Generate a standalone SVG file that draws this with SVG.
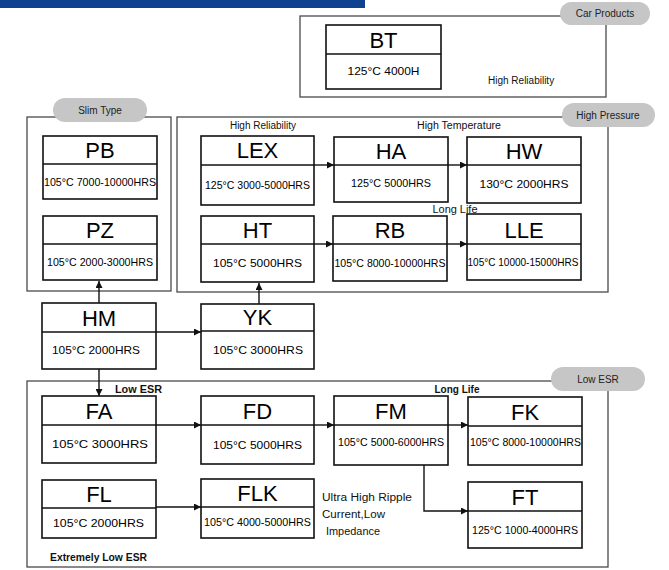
<svg xmlns="http://www.w3.org/2000/svg" width="669" height="570" viewBox="0 0 669 570">
<defs>
<style>
.grp{fill:none;stroke:#4a4a4a;stroke-width:1.3}
.pill{fill:#c6c6c6;stroke:none}
.pt{font-family:"Liberation Sans",Arial,sans-serif;font-size:10px;fill:#222;text-anchor:middle}
.box{fill:#fff;stroke:#111;stroke-width:1.6}
.div{stroke:#111;stroke-width:1.6}
.ttl{font-family:"Liberation Sans",Arial,sans-serif;font-size:22px;fill:#000;text-anchor:middle}
.sub{font-family:"Liberation Sans",Arial,sans-serif;font-size:11px;fill:#000;text-anchor:middle}
.lbl{font-family:"Liberation Sans",Arial,sans-serif;font-size:10px;fill:#111}
.lblb{font-family:"Liberation Sans",Arial,sans-serif;font-size:10px;fill:#111;font-weight:bold}
.con{fill:none;stroke:#111;stroke-width:1.4}
</style>
<marker id="ah" viewBox="0 0 10 10" refX="10" refY="5" markerWidth="7" markerHeight="7" markerUnits="userSpaceOnUse" orient="auto">
<path d="M0,0 L10,5 L0,10 z" fill="#111"/>
</marker>
</defs>
<rect width="669" height="570" fill="#fff"/>
<rect x="0" y="0" width="365" height="8" fill="#0f4191"/>

<g id="groups">
<rect class="grp" x="300" y="16" width="306" height="81"/>
<rect class="grp" x="27" y="117" width="144" height="174"/>
<rect class="grp" x="177" y="117" width="431" height="175"/>
<rect class="grp" x="27" y="381" width="581" height="186"/>
<rect class="pill" x="560" y="2" width="90" height="23" rx="11.5"/>
<text class="pt" x="605" y="17">Car Products</text>
<rect class="pill" x="53" y="98" width="94" height="24" rx="12"/>
<text class="pt" x="100" y="114">Slim Type</text>
<rect class="pill" x="562" y="103" width="93" height="24" rx="12"/>
<text class="pt" x="608" y="119">High Pressure</text>
<rect class="pill" x="551" y="367" width="94" height="24" rx="12"/>
<text class="pt" x="598" y="383">Low ESR</text>
</g>

<g id="labels">
<text class="lbl" x="488" y="84">High Reliability</text>
<text class="lbl" x="263" y="129" text-anchor="middle">High Reliability</text>
<text class="lbl" x="459" y="129" text-anchor="middle" textLength="84" lengthAdjust="spacingAndGlyphs">High Temperature</text>
<text class="lbl" x="455" y="213" text-anchor="middle" textLength="45" lengthAdjust="spacingAndGlyphs">Long Life</text>
<text class="lblb" x="115" y="393" textLength="47" lengthAdjust="spacingAndGlyphs">Low ESR</text>
<text class="lblb" x="457" y="393" text-anchor="middle" textLength="45" lengthAdjust="spacingAndGlyphs">Long Life</text>
<text class="lblb" x="50" y="561" textLength="97" lengthAdjust="spacingAndGlyphs">Extremely Low ESR</text>
<text class="lbl" x="322" y="501" textLength="90" lengthAdjust="spacingAndGlyphs">Ultra High Ripple</text>
<text class="lbl" x="322" y="518" textLength="63" lengthAdjust="spacingAndGlyphs">Current,Low</text>
<text class="lbl" x="326" y="535" textLength="54" lengthAdjust="spacingAndGlyphs">Impedance</text>
</g>

<g id="connectors">
<line class="con" x1="99" y1="303" x2="99" y2="281" marker-end="url(#ah)"/>
<line class="con" x1="156" y1="332" x2="201" y2="332" marker-end="url(#ah)"/>
<line class="con" x1="259" y1="304" x2="259" y2="283" marker-end="url(#ah)"/>
<line class="con" x1="99" y1="369" x2="99" y2="396" marker-end="url(#ah)"/>
<line class="con" x1="314" y1="165" x2="334" y2="165" marker-end="url(#ah)"/>
<line class="con" x1="448" y1="165" x2="467" y2="165" marker-end="url(#ah)"/>
<line class="con" x1="314" y1="244" x2="333" y2="244" marker-end="url(#ah)"/>
<line class="con" x1="447" y1="244" x2="467" y2="244" marker-end="url(#ah)"/>
<line class="con" x1="156" y1="425" x2="201" y2="425" marker-end="url(#ah)"/>
<line class="con" x1="314" y1="425" x2="334" y2="425" marker-end="url(#ah)"/>
<line class="con" x1="448" y1="425" x2="468" y2="425" marker-end="url(#ah)"/>
<polyline class="con" points="424,465 424,511 468,511" marker-end="url(#ah)"/>
<line class="con" x1="156" y1="507" x2="201" y2="507" marker-end="url(#ah)"/>
</g>

<g id="BT"><rect class="box" x="326" y="25" width="115" height="64"/><line class="div" x1="326" y1="54" x2="441" y2="54"/><text class="ttl" x="383.5" y="48">BT</text><text class="sub" x="383.5" y="75" textLength="72" lengthAdjust="spacingAndGlyphs">125°C 4000H</text></g>

<g id="PB"><rect class="box" x="43" y="136" width="114" height="63"/><line class="div" x1="43" y1="164" x2="157" y2="164"/><text class="ttl" x="100" y="158">PB</text><text class="sub" x="100" y="186" textLength="112" lengthAdjust="spacingAndGlyphs">105°C 7000-10000HRS</text></g>

<g id="PZ"><rect class="box" x="43" y="216" width="114" height="64"/><line class="div" x1="43" y1="244" x2="157" y2="244"/><text class="ttl" x="100" y="237.5">PZ</text><text class="sub" x="100" y="266" textLength="106" lengthAdjust="spacingAndGlyphs">105°C 2000-3000HRS</text></g>

<g id="LEX"><rect class="box" x="201" y="136" width="113" height="69"/><line class="div" x1="201" y1="165" x2="314" y2="165"/><text class="ttl" x="257.5" y="157.5">LEX</text><text class="sub" x="257.5" y="189" textLength="105" lengthAdjust="spacingAndGlyphs">125°C 3000-5000HRS</text></g>

<g id="HT"><rect class="box" x="201" y="216" width="113" height="66"/><line class="div" x1="201" y1="244" x2="314" y2="244"/><text class="ttl" x="257.5" y="237.5">HT</text><text class="sub" x="257.5" y="267" textLength="89" lengthAdjust="spacingAndGlyphs">105°C 5000HRS</text></g>

<g id="HA"><rect class="box" x="334" y="137" width="114" height="65"/><line class="div" x1="334" y1="165" x2="448" y2="165"/><text class="ttl" x="391" y="158.5">HA</text><text class="sub" x="391" y="187" textLength="80" lengthAdjust="spacingAndGlyphs">125°C 5000HRS</text></g>

<g id="HW"><rect class="box" x="467" y="137" width="114" height="66"/><line class="div" x1="467" y1="165" x2="581" y2="165"/><text class="ttl" x="524" y="158.5">HW</text><text class="sub" x="524" y="188" textLength="89" lengthAdjust="spacingAndGlyphs">130°C 2000HRS</text></g>

<g id="RB"><rect class="box" x="333" y="216" width="114" height="65"/><line class="div" x1="333" y1="244" x2="447" y2="244"/><text class="ttl" x="390" y="237.5">RB</text><text class="sub" x="390" y="266.5" textLength="111" lengthAdjust="spacingAndGlyphs">105°C 8000-10000HRS</text></g>

<g id="LLE"><rect class="box" x="467" y="214" width="114" height="66"/><line class="div" x1="467" y1="244" x2="581" y2="244"/><text class="ttl" x="524" y="237.5">LLE</text><text class="sub" x="523" y="266" textLength="111" lengthAdjust="spacingAndGlyphs">105°C 10000-15000HRS</text></g>

<g id="HM"><rect class="box" x="42" y="303" width="114" height="66"/><line class="div" x1="42" y1="332" x2="156" y2="332"/><text class="ttl" x="99" y="325.5">HM</text><text class="sub" x="96" y="353.5" textLength="88" lengthAdjust="spacingAndGlyphs">105°C 2000HRS</text></g>

<g id="YK"><rect class="box" x="201" y="304" width="113" height="65"/><line class="div" x1="201" y1="331" x2="314" y2="331"/><text class="ttl" x="257.5" y="324.5">YK</text><text class="sub" x="258" y="354" textLength="90" lengthAdjust="spacingAndGlyphs">105°C 3000HRS</text></g>

<g id="FA"><rect class="box" x="42" y="396" width="114" height="67"/><line class="div" x1="42" y1="425" x2="156" y2="425"/><text class="ttl" x="99" y="418.5">FA</text><text class="sub" x="100" y="448" textLength="96" lengthAdjust="spacingAndGlyphs">105°C 3000HRS</text></g>

<g id="FD"><rect class="box" x="201" y="396" width="113" height="68"/><line class="div" x1="201" y1="425" x2="314" y2="425"/><text class="ttl" x="257.5" y="418.5">FD</text><text class="sub" x="257.5" y="448.5" textLength="89" lengthAdjust="spacingAndGlyphs">105°C 5000HRS</text></g>

<g id="FM"><rect class="box" x="334" y="396" width="114" height="69"/><line class="div" x1="334" y1="425" x2="448" y2="425"/><text class="ttl" x="391" y="418.5">FM</text><text class="sub" x="391" y="446" textLength="106" lengthAdjust="spacingAndGlyphs">105°C 5000-6000HRS</text></g>

<g id="FK"><rect class="box" x="468" y="397" width="114" height="68"/><line class="div" x1="468" y1="426" x2="582" y2="426"/><text class="ttl" x="525" y="419.5">FK</text><text class="sub" x="525.5" y="446" textLength="111" lengthAdjust="spacingAndGlyphs">105°C 8000-10000HRS</text></g>

<g id="FL"><rect class="box" x="42" y="480" width="114" height="58"/><line class="div" x1="42" y1="508" x2="156" y2="508"/><text class="ttl" x="99" y="501.5">FL</text><text class="sub" x="98.5" y="527" textLength="91" lengthAdjust="spacingAndGlyphs">105°C 2000HRS</text></g>

<g id="FLK"><rect class="box" x="201" y="479" width="113" height="59"/><line class="div" x1="201" y1="507" x2="314" y2="507"/><text class="ttl" x="257.5" y="500.5">FLK</text><text class="sub" x="257.5" y="526" textLength="107" lengthAdjust="spacingAndGlyphs">105°C 4000-5000HRS</text></g>

<g id="FT"><rect class="box" x="468" y="482" width="114" height="66"/><line class="div" x1="468" y1="511" x2="582" y2="511"/><text class="ttl" x="525" y="504.5">FT</text><text class="sub" x="525" y="533.5" textLength="106" lengthAdjust="spacingAndGlyphs">125°C 1000-4000HRS</text></g>
</svg>
